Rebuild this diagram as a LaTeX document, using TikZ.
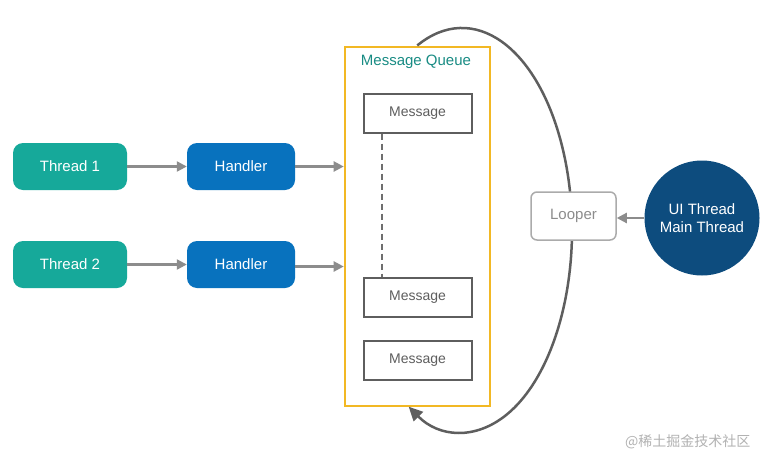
\documentclass[tikz,border=0pt]{standalone}
\usepackage{fontspec}
\setmainfont{Liberation Sans}
\newfontfamily\cjk{Noto Sans CJK SC}
\usetikzlibrary{arrows.meta}
\definecolor{teal1}{HTML}{16A99A}
\definecolor{blue1}{HTML}{0872BE}
\definecolor{navy1}{HTML}{0D4C7E}
\definecolor{qyellow}{HTML}{F2B824}
\definecolor{qtext}{HTML}{198C84}
\definecolor{msggrey}{HTML}{5E5E5E}
\definecolor{arrgrey}{HTML}{8C8C8C}
\begin{document}
\begin{tikzpicture}[x=1pt,y=-1pt,
  threadbox/.style={fill=teal1,rounded corners=10pt,minimum width=114pt,minimum height=47pt,text=white,font=\fontsize{15}{17}\selectfont},
  handlerbox/.style={fill=blue1,rounded corners=10pt,minimum width=108pt,minimum height=47pt,text=white,font=\fontsize{15}{17}\selectfont},
  msgbox/.style={draw=msggrey,line width=2pt,fill=white,minimum width=108pt,minimum height=39pt,text=msggrey,font=\fontsize{14}{16}\selectfont},
  flow/.style={draw=arrgrey,line width=2.2pt,-{Triangle[length=10pt,width=10pt]}},
]
\useasboundingbox (0,0) rectangle (768,466);
\fill[white] (0,0) rectangle (768,466);

% queue
\node[draw=qyellow,line width=2.6pt,minimum width=145pt,minimum height=359pt,inner sep=0pt] (queue) at (417.5,226.5) {};
\node[text=qtext,font=\fontsize{15}{17}\selectfont] (qlabel) at (416,62) {Message Queue};

% loop curve
\coordinate (ec) at (462,230);
\path (ec) ++(-114:110 and 202) coordinate (cstart);
\draw[draw=msggrey,line width=2.5pt,-{Triangle[length=14pt,width=13pt]}]
  (cstart) arc[start angle=-114,end angle=119,x radius=110,y radius=202] coordinate (cend);

\node[msgbox] (m1) at (417.5,113) {Message};
\node[msgbox] (m2) at (417.5,297.5) {Message};
\node[msgbox] (m3) at (417.5,360) {Message};
\draw[msggrey!90,line width=2pt,dash pattern=on 6pt off 4pt] (m1.south -| 382,0) -- (m2.north -| 382,0);

\node[threadbox] (t1) at (70,166.5) {Thread 1};
\node[threadbox] (t2) at (70,264.5) {Thread 2};
\node[handlerbox] (h1) at (241,166.5) {Handler};
\node[handlerbox] (h2) at (241,264.5) {Handler};

\draw[flow] (t1.east) -- (h1.west);
\draw[flow] (t2.east) -- (h2.west);
\draw[flow] (h1.east) -- (h1.east -| queue.west);
\draw[flow] (h2.east) ++(0,2) coordinate (h2o) -- (h2o -| queue.west);

\node[draw=black!33,line width=1.5pt,fill=white,rounded corners=6pt,minimum width=85pt,minimum height=48pt,text=black!45,font=\fontsize{15}{17}\selectfont] (looper) at (573.5,216) {Looper};
\node[circle,fill=navy1,minimum size=115pt,inner sep=0pt,text=white,align=center,font=\fontsize{15}{18}\selectfont] (ui) at (702,218) {UI Thread\\Main Thread};
\draw[flow] (ui.west) -- (ui.west -| looper.east);

\node[text=black!30,font=\cjk\fontsize{14}{16}\selectfont,anchor=east] (wm) at (754,442) {@稀土掘金技术社区};
\end{tikzpicture}
\end{document}
